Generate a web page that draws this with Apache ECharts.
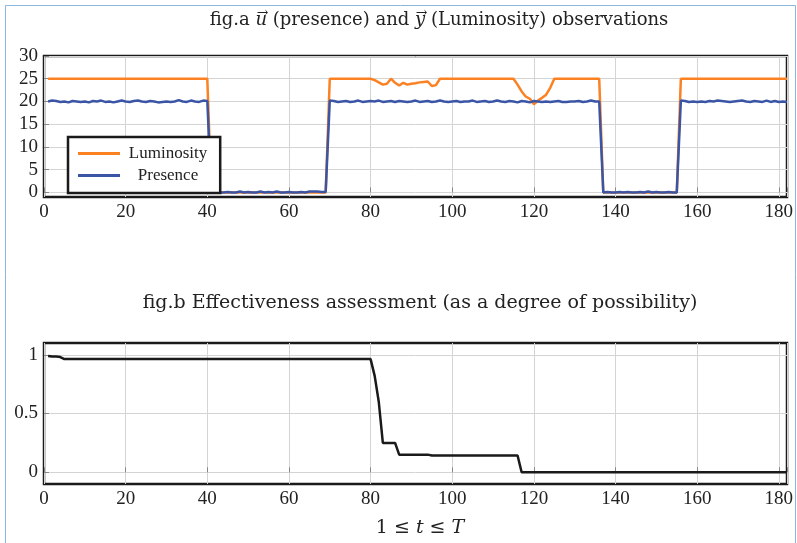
<!DOCTYPE html>
<html>
<head>
<meta charset="utf-8">
<script src="https://cdn.jsdelivr.net/npm/echarts@6/dist/echarts.min.js"></script>
<style>
html,body{margin:0;padding:0;background:#fff;}
#chart{width:797px;height:543px;}
</style>
</head>
<body>
<div id="chart"></div>
<script>
// ---------- data (t = 1 .. 182) ----------
const T_FIRST = 1;
const xTicks = [0, 20, 40, 60, 80, 100, 120, 140, 160, 180];
const yTicksA = [0, 5, 10, 15, 20, 25, 30];
const yTicksB = [0, 0.5, 1];

const luminosity = [
25,25,25,25,25,25,25,25,25,25,
25,25,25,25,25,25,25,25,25,25,
25,25,25,25,25,25,25,25,25,25,
25,25,25,25,25,25,25,25,25,25,
0,0,0,0,0,0,0,0,0,0,
0,0,0,0,0,0,0,0,0,0,
0,0,0,0,0,0,0,0,0,
25,25,25,25,25,25,25,25,25,25,
25,24.7,24.2,23.7,23.9,25,24.1,23.5,24.1,23.7,
23.9,24.0,24.2,24.3,24.4,23.4,23.6,25,25,25,
25,25,25,25,25,25,25,25,25,25,
25,25,25,25,25,25,23.7,22.2,21.1,20.6,
19.4,20.2,20.8,21.5,23.0,25,25,25,25,25,
25,25,25,25,25,25,25,
0,0,0,0,0,0,0,0,0,0,
0,0,0,0,0,0,0,0,0,
25,25,25,25,25,25,25,25,25,25,
25,25,25,25,25,25,25,25,25,25,
25,25,25,25,25,25,25
];

const presence = [
20.0,20.2,20.1,19.9,20.0,19.8,20.1,20.0,19.9,20.0,
19.8,20.1,20.0,20.2,19.9,20.0,19.8,20.0,20.2,20.0,
19.9,20.1,20.2,20.0,19.9,20.1,20.0,19.8,19.9,20.0,
19.9,20.0,20.3,20.0,19.9,20.2,20.0,19.9,20.2,20.1,
0.0,0.1,0.0,0.0,0.1,0.0,0.0,0.2,0.0,0.1,
0.0,0.0,0.2,0.0,0.1,0.0,0.2,0.0,0.0,0.1,
0.0,0.0,0.1,0.0,0.2,0.2,0.2,0.1,0.1,
20.2,20.1,19.9,20.0,20.1,19.9,20.0,20.2,19.9,20.0,
20.1,20.0,20.2,19.9,20.0,20.1,19.9,20.1,20.0,19.9,
20.0,20.2,19.9,20.0,20.1,19.9,20.0,20.2,20.0,19.9,
20.0,20.1,19.9,20.0,20.0,20.2,19.9,20.0,20.1,19.9,
20.0,20.2,20.0,19.9,20.1,20.0,19.8,20.1,20.0,19.8,
20.1,20.0,19.9,20.0,19.9,20.0,20.1,19.9,19.9,20.0,
20.0,20.1,19.9,20.0,20.2,20.0,20.0,
0.0,0.1,0.0,0.0,0.1,0.0,0.1,0.0,0.0,0.1,
0.0,0.2,0.0,0.1,0.0,0.0,0.1,0.0,0.0,
20.2,20.1,19.9,20.0,19.9,20.0,19.9,20.1,20.0,20.2,
20.1,20.0,19.9,20.0,20.1,20.2,20.0,19.9,20.1,20.0,
19.9,20.2,19.9,20.1,19.9,20.0,19.9
];

const effectiveness = [
0.99,0.985,0.985,0.98,0.963,0.963,0.963,0.963,0.963,0.963,
0.963,0.963,0.963,0.963,0.963,0.963,0.963,0.963,0.963,0.963,
0.963,0.963,0.963,0.963,0.963,0.963,0.963,0.963,0.963,0.963,
0.963,0.963,0.963,0.963,0.963,0.963,0.963,0.963,0.963,0.963,
0.963,0.963,0.963,0.963,0.963,0.963,0.963,0.963,0.963,0.963,
0.963,0.963,0.963,0.963,0.963,0.963,0.963,0.963,0.963,0.963,
0.963,0.963,0.963,0.963,0.963,0.963,0.963,0.963,0.963,0.963,
0.963,0.963,0.963,0.963,0.963,0.963,0.963,0.963,0.963,0.963,
0.82,0.6,0.25,0.25,0.25,0.25,0.15,0.15,0.15,0.15,
0.15,0.15,0.15,0.15,0.143,0.143,0.143,0.143,0.143,0.143,
0.143,0.143,0.143,0.143,0.143,0.143,0.143,0.143,0.143,0.143,
0.143,0.143,0.143,0.143,0.143,0.143,0,0,0,0,
0,0,0,0,0,0,0,0,0,0,
0,0,0,0,0,0,0,0,0,0,
0,0,0,0,0,0,0,0,0,0,
0,0,0,0,0,0,0,0,0,0,
0,0,0,0,0,0,0,0,0,0,
0,0,0,0,0,0,0,0,0,0,
0,0
];

const pairs = arr => arr.map((v, i) => [T_FIRST + i, v]);

// ---------- styles ----------
const FONT = '"Liberation Serif", "DejaVu Serif", serif';
const TFONT = '"DejaVu Serif", serif';
const TSIZE = 19;
const TASIZE = 18;
const ORANGE = '#fb8122';
const BLUE = '#3a55a5';
const GRIDC = '#d4d4d4';
const TXT = '#222';

// title a pieces (vectors u and y get an arrow drawn above them)
const TA_CX = 439, TA_TOP = 11;
const taParts = ['fig.a ', 'u', ' (presence) and ', 'y', ' (Luminosity) observations'];
const mctx = document.createElement('canvas').getContext('2d');
function tw(s, italic) {
  mctx.font = (italic ? 'italic ' : '') + TASIZE + 'px "DejaVu Serif", serif';
  return mctx.measureText(s).width;
}
const wP = taParts.map((s, i) => tw(s, i === 1 || i === 3));
const taTotal = wP.reduce((a, b) => a + b, 0);
const taLeft = TA_CX - taTotal / 2;
const uCx = taLeft + wP[0] + wP[1] / 2 + 1.5;
const yCx = taLeft + wP[0] + wP[1] + wP[2] + wP[3] / 2 + 1.5;

function xAxisCfg(gridIndex) {
  return {
    type: 'value', gridIndex, min: 0, max: 182, interval: 20,
    axisLine: { show: false },
    axisTick: { show: true, inside: true, length: 5, lineStyle: { color: '#888', width: 1 } },
    axisLabel: { color: TXT, fontFamily: FONT, fontSize: 19, margin: 6, customValues: xTicks },
    splitLine: { show: true, lineStyle: { color: GRIDC, width: 1 } }
  };
}
function yAxisCfg(gridIndex, min, max, ticks) {
  return {
    type: 'value', gridIndex, min, max,
    axisLine: { show: false },
    axisTick: { show: true, inside: true, length: 5, customValues: ticks, lineStyle: { color: '#888', width: 1 } },
    axisLabel: { color: TXT, fontFamily: FONT, fontSize: 19, margin: 6, customValues: ticks },
    splitLine: { show: true, lineStyle: { color: GRIDC, width: 1 } }
  };
}

const chart = echarts.init(document.getElementById('chart'), null, { renderer: 'canvas' });
chart.setOption({
  animation: false,
  backgroundColor: '#fff',
  title: [
    {
      text: '{r|' + taParts[0] + '}{v|' + taParts[1] + '}{r|' + taParts[2] + '}{v|' + taParts[3] + '}{r|' + taParts[4] + '}',
      left: TA_CX, top: TA_TOP, textAlign: 'center', padding: 0,
      textStyle: { fontWeight: 'normal', rich: {
        r: { fontFamily: TFONT, fontSize: TASIZE, fontWeight: 'normal', color: TXT },
        v: { fontFamily: TFONT, fontSize: TASIZE, fontWeight: 'normal', fontStyle: 'italic', color: TXT }
      } }
    },
    {
      text: 'fig.b Effectiveness assessment (as a degree of possibility)',
      left: 415, top: 289, textAlign: 'center',
      textStyle: { fontFamily: TFONT, fontSize: TSIZE, fontWeight: 'normal', color: TXT }
    },
    {
      text: '{r|1 ≤ }{i|t}{r| ≤ }{i|T}',
      left: 415, top: 514, textAlign: 'center',
      textStyle: { fontWeight: 'normal', rich: {
        r: { fontFamily: TFONT, fontSize: TSIZE, fontWeight: 'normal', color: TXT },
        i: { fontFamily: TFONT, fontSize: TSIZE, fontWeight: 'normal', fontStyle: 'italic', color: TXT }
      } }
    }
  ],
  legend: {
    data: [
      { name: 'Luminosity', icon: 'rect' },
      { name: 'Presence', icon: 'rect' }
    ],
    orient: 'vertical',
    left: 68, top: 137,
    padding: [8, 13, 9, 10],
    itemGap: 5,
    itemWidth: 42, itemHeight: 3,
    backgroundColor: '#fff',
    borderColor: '#1a1a1a', borderWidth: 2.5, borderRadius: 0,
    formatter: '{a|{name}}',
    textStyle: { rich: { a: { fontFamily: FONT, fontSize: 17, color: TXT, width: 86, align: 'center' } } }
  },
  grid: [
    { left: 44, right: 10, top: 56, height: 141, show: true, borderColor: '#1a1a1a', borderWidth: 2.5, backgroundColor: 'transparent' },
    { left: 44, right: 10, top: 343, height: 141, show: true, borderColor: '#1a1a1a', borderWidth: 2.5, backgroundColor: 'transparent' }
  ],
  xAxis: [xAxisCfg(0), xAxisCfg(1)],
  yAxis: [yAxisCfg(0, -1, 30, yTicksA), yAxisCfg(1, -0.1, 1.1, yTicksB)],
  series: [
    { name: 'Luminosity', type: 'line', xAxisIndex: 0, yAxisIndex: 0, data: pairs(luminosity),
      showSymbol: false, color: ORANGE, lineStyle: { color: ORANGE, width: 2.5 }, z: 2 },
    { name: 'Presence', type: 'line', xAxisIndex: 0, yAxisIndex: 0, data: pairs(presence),
      showSymbol: false, color: BLUE, lineStyle: { color: BLUE, width: 2.5 }, z: 3 },
    { name: 'Effectiveness', type: 'line', xAxisIndex: 1, yAxisIndex: 1, data: pairs(effectiveness),
      showSymbol: false, color: '#1a1a1a', lineStyle: { color: '#1a1a1a', width: 2.5 }, z: 3 }
  ],
  graphic: [
    { type: 'rect', shape: { x: 5.5, y: 5.5, width: 790, height: 600 }, style: { fill: 'none', stroke: '#8ab6dc', lineWidth: 1 }, silent: true, z: -1 },
    { type: 'text', x: uCx, y: TA_TOP + 2, silent: true, z: 10,
      style: { text: '\u2192', fontFamily: TFONT, fontSize: 14, fill: TXT, textAlign: 'center', textVerticalAlign: 'middle' } },
    { type: 'text', x: yCx, y: TA_TOP + 2, silent: true, z: 10,
      style: { text: '\u2192', fontFamily: TFONT, fontSize: 14, fill: TXT, textAlign: 'center', textVerticalAlign: 'middle' } }
  ]
});
</script>
</body>
</html>
